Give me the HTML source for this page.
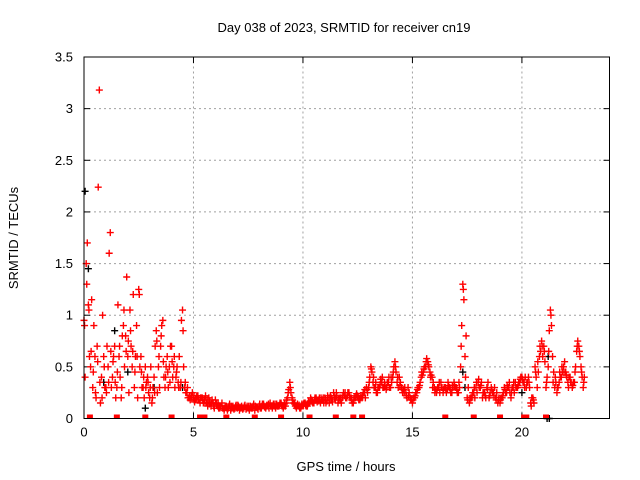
<!DOCTYPE html>
<html><head><meta charset="utf-8"><style>
body{margin:0;background:#fff;}
svg{display:block;font-family:"Liberation Sans",sans-serif;}
</style></head><body>
<svg id="chart" width="640" height="480" viewBox="0 0 640 480">
<text x="344" y="32" font-size="13" text-anchor="middle">Day 038 of 2023, SRMTID for receiver cn19</text>
<text transform="translate(18,238) rotate(-90)" font-size="13" text-anchor="middle">SRMTID / TECUs</text>
<text x="346" y="471" font-size="13" text-anchor="middle">GPS time / hours</text>
<g id="grid"></g><g id="axes"></g><g id="marks"></g>
<rect x="84" y="57" width="525.5" height="361.5" fill="none" stroke="#000" stroke-width="1"/>
</svg>
<script>
const xTicks=[0,5,10,15,20];
const yTicks=[0,0.5,1,1.5,2,2.5,3,3.5];
const yTickLabels=["0","0.5","1","1.5","2","2.5","3","3.5"];
const redA=[
0.95,1.5,1.1,0.5,0.3,0.6,0.7,3.18,0.4,0.6,
0.3,0.5,1.8,0.4,0.7,0.3,0.6,0.2,0.9,0.8,
0.6,1.05,0.5,0.3,0.9,1.25,0.6,0.3,0.5,0.4,
0.2,0.15,0.4,0.85,0.5,0.7,0.95,0.3,0.6,0.5,
0.7,0.5,0.4,0.35,0.3,1.05,0.3,0.25,0.2,0.22,
0.2,0.18,0.22,0.15,0.2,0.18,0.15,0.2,0.12,0.15,
0.18,0.12,0.1,0.15,0.08,0.12,0.1,0.08,0.12,0.1,
0.1,0.08,0.12,0.1,0.09,0.1,0.12,0.1,0.08,0.11,
0.12,0.1,0.14,0.1,0.12,0.15,0.1,0.12,0.14,0.12,
0.15,0.1,0.12,0.2,0.35,0.2,0.15,0.1,0.12,0.1,
0.12,0.15,0.12,0.15,0.18,0.15,0.2,0.18,0.15,0.18,
0.2,0.17,0.15,0.2,0.25,0.2,0.15,0.18,0.2,0.22,
0.2,0.25,0.2,0.15,0.2,0.22,0.18,0.2,0.25,0.3,
0.3,0.5,0.35,0.3,0.25,0.3,0.35,0.3,0.28,0.35,
0.3,0.4,0.55,0.35,0.4,0.3,0.28,0.25,0.3,0.2,
0.15,0.2,0.25,0.3,0.4,0.45,0.5,0.55,0.45,0.4,
0.3,0.25,0.3,0.35,0.25,0.3,0.28,0.3,0.25,0.35,
0.3,0.25,0.5,1.3,0.6,0.2,0.15,0.2,0.25,0.3,
0.35,0.3,0.2,0.25,0.3,0.2,0.3,0.25,0.2,0.15,
0.15,0.2,0.3,0.25,0.3,0.2,0.3,0.35,0.3,0.35,
0.4,0.35,0.3,0.4,0.15,0.2,0.5,0.3,0.6,0.75,
0.7,0.3,0.5,1.05,0.6,0.3,0.25,0.35,0.4,0.5,
0.45,0.35,0.4,0.3,0.35,0.65,0.7,0.5,0.3];
const redB=[
0.4,1.7,0.6,1.15,0.9,0.2,2.24,0.15,1.0,0.3,
0.7,1.6,0.3,0.6,0.2,1.1,0.4,0.8,0.5,1.37,
0.25,0.7,1.2,0.6,0.2,0.5,0.3,0.2,0.35,0.25,
0.5,0.3,0.7,0.25,0.3,0.9,0.4,0.5,0.3,0.7,
0.4,0.3,0.5,0.6,0.95,0.5,0.25,0.2,0.18,0.25,
0.16,0.22,0.18,0.2,0.15,0.22,0.12,0.16,0.18,0.1,
0.14,0.1,0.12,0.1,0.12,0.08,0.14,0.1,0.09,0.13,
0.12,0.1,0.09,0.13,0.12,0.08,0.1,0.14,0.11,0.09,
0.1,0.14,0.11,0.13,0.1,0.12,0.14,0.1,0.12,0.15,
0.12,0.14,0.18,0.28,0.25,0.15,0.12,0.14,0.1,0.14,
0.15,0.12,0.16,0.2,0.15,0.2,0.16,0.2,0.18,0.15,
0.15,0.2,0.22,0.16,0.2,0.22,0.2,0.15,0.25,0.2,
0.25,0.2,0.15,0.2,0.24,0.18,0.22,0.25,0.2,0.25,
0.4,0.45,0.3,0.25,0.3,0.38,0.3,0.32,0.35,0.3,
0.35,0.5,0.45,0.3,0.35,0.25,0.3,0.2,0.25,0.18,
0.2,0.25,0.3,0.35,0.42,0.5,0.58,0.5,0.42,0.35,
0.28,0.3,0.25,0.3,0.3,0.25,0.32,0.25,0.3,0.3,
0.25,0.3,0.9,1.15,0.8,0.3,0.2,0.25,0.2,0.25,
0.3,0.35,0.25,0.2,0.35,0.25,0.25,0.3,0.25,0.2,
0.2,0.25,0.25,0.3,0.25,0.3,0.25,0.3,0.35,0.4,
0.35,0.4,0.35,0.3,0.2,0.15,0.4,0.45,0.65,0.6,
0.55,0.4,0.85,0.9,0.45,0.35,0.3,0.4,0.45,0.55,
0.4,0.4,0.35,0.35,0.5,0.75,0.6,0.4,0.4];
const redC=[
0.9,1.3,1.05,0.65,0.45,0.25,0.55,0.35,0.2,0.5,
0.25,0.35,0.65,0.55,0.35,0.45,0.7,0.3,1.05,0.65,
0.75,0.85,0.65,0.45,0.6,1.2,0.45,0.4,0.3,0.35,
0.3,0.2,0.25,0.75,0.6,0.8,0.55,0.4,0.45,0.35,
0.55,0.6,0.45,0.3,0.35,0.85,0.35,0.3,0.22,0.2,
0.22,0.2,0.18,0.2,0.18,0.15,0.18,0.14,0.15,0.12,
0.15,0.14,0.12,0.1,0.1,0.1,0.12,0.12,0.1,0.12,
0.13,0.11,0.1,0.12,0.1,0.12,0.1,0.12,0.12,0.1,
0.14,0.12,0.12,0.12,0.14,0.12,0.12,0.14,0.12,0.13,
0.13,0.12,0.15,0.25,0.3,0.18,0.14,0.12,0.13,0.12,
0.14,0.13,0.14,0.17,0.16,0.18,0.18,0.17,0.2,0.2,
0.18,0.22,0.2,0.18,0.22,0.25,0.18,0.2,0.22,0.25,
0.22,0.22,0.18,0.18,0.22,0.2,0.2,0.22,0.28,0.28,
0.35,0.48,0.4,0.35,0.3,0.33,0.4,0.35,0.3,0.4,
0.4,0.45,0.5,0.4,0.32,0.28,0.25,0.22,0.22,0.18,
0.18,0.22,0.28,0.32,0.45,0.48,0.55,0.52,0.4,0.3,
0.25,0.28,0.35,0.3,0.28,0.28,0.35,0.28,0.32,0.32,
0.28,0.35,0.7,1.25,0.4,0.18,0.18,0.22,0.3,0.35,
0.38,0.32,0.25,0.22,0.28,0.22,0.28,0.22,0.18,0.18,
0.18,0.22,0.28,0.32,0.35,0.25,0.35,0.3,0.32,0.38,
0.38,0.3,0.35,0.35,0.12,0.18,0.45,0.55,0.7,0.7,
0.65,0.35,0.65,1.0,0.35,0.4,0.3,0.45,0.5,0.45,
0.42,0.3,0.35,0.32,0.45,0.7,0.65,0.45,0.35];
const zeroT=[0.27,1.5,2.8,4.0,5.3,5.5,6.5,7.8,9.0,10.3,11.5,12.3,12.7,16.5,17.8,19.0,20.1,20.2,21.1];
const blackT=[0.05,0.2,0.9,1.4,2.0,2.8,3.2,4.5,13.3,17.3,17.4,20.0,21.2,21.15,21.25];
const blackV=[2.2,1.45,0.35,0.85,0.45,0.1,0.3,0.3,0.3,0.45,0.3,0.25,0.6,0.0,0.0];
const stepH=0.1;
const X0=84,X1=609.5,Y0=418.5,Y1=57,XMAX=24,YMAX=3.5;
const xs=v=>X0+(X1-X0)*v/XMAX, ys=v=>Y0-(Y0-Y1)*v/YMAX;
const NS="http://www.w3.org/2000/svg";
function mk(tag,attrs,parent){const e=document.createElementNS(NS,tag);for(const k in attrs)e.setAttribute(k,attrs[k]);parent.appendChild(e);return e;}
const grid=document.getElementById('grid'),axes=document.getElementById('axes'),marks=document.getElementById('marks');
yTicks.forEach((v,i)=>{const y=ys(v);
 if(i>0&&i<yTicks.length-1){const g=mk('line',{x1:X0,x2:X1,y1:y,y2:y,stroke:'#a0a0a0','stroke-dasharray':'2,3'},grid);
 
 }
 mk('line',{x1:X0,x2:X0+6,y1:y,y2:y,stroke:'#000'},axes);
 mk('line',{x1:X1,x2:X1-6,y1:y,y2:y,stroke:'#000'},axes);
 const t=mk('text',{x:X0-11,y:y+4.5,'font-size':13,'text-anchor':'end'},axes);t.textContent=yTickLabels[i];
 
 });
xTicks.forEach(v=>{const x=xs(v);
 if(v>0){const g=mk('line',{x1:x,x2:x,y1:Y0,y2:Y1,stroke:'#a0a0a0','stroke-dasharray':'2,3'},grid);
 
 }
 mk('line',{x1:x,x2:x,y1:Y0,y2:Y0-6,stroke:'#000'},axes);
 mk('line',{x1:x,x2:x,y1:Y1,y2:Y1+6,stroke:'#000'},axes);
 const t=mk('text',{x:x,y:Y0+18,'font-size':13,'text-anchor':'middle'},axes);t.textContent=String(v);
 
 });
function plus(t,v,col,name){const x=xs(t),y=ys(v);
 const p=mk('path',{d:`M${x-3.5},${y}H${x+3.5}M${x},${y-3.5}V${y+3.5}`,stroke:col,'stroke-width':1.4,fill:'none'},marks);
 
 }
blackT.forEach((t,i)=>plus(t,blackV[i],'#000','black-point'));
redA.forEach((v,i)=>plus(i*stepH,v,'#ff0000','red-point'));
redB.forEach((v,i)=>plus(i*stepH+0.05,v,'#ff0000','red-point'));
redC.forEach((v,i)=>plus(i*stepH+0.025,v,'#ff0000','red-point'));
zeroT.forEach(t=>{const x=xs(t);const r=mk('rect',{x:x-3,y:Y0-4,width:6,height:4,fill:'#ff0000'},marks);
 
 });
</script>
</body></html>
